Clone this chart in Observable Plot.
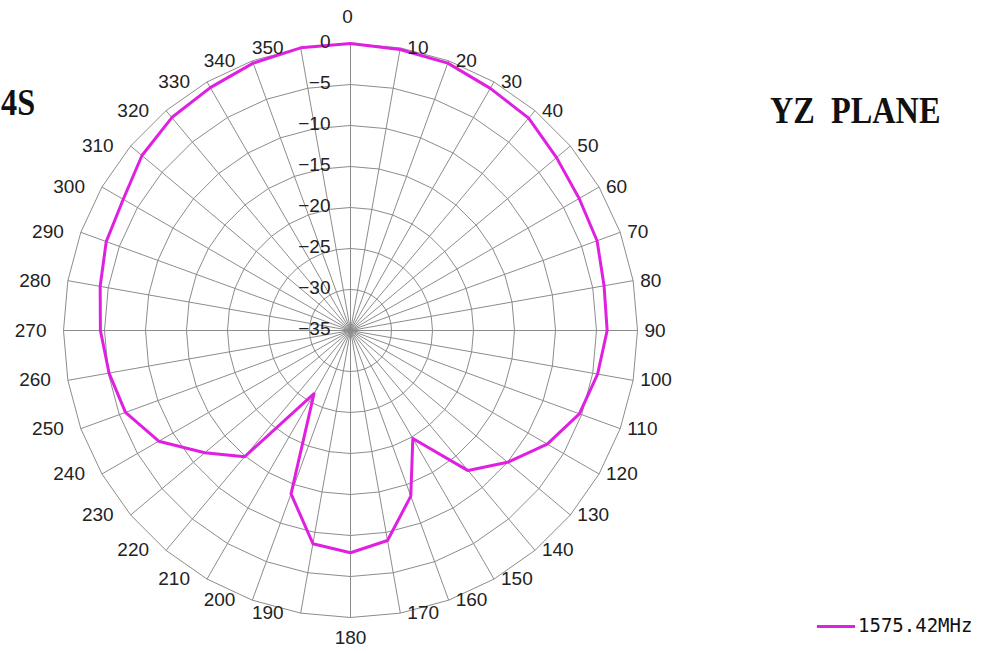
<!DOCTYPE html>
<html>
<head>
<meta charset="utf-8">
<script src="https://cdn.jsdelivr.net/npm/d3@7"></script>
<script src="https://cdn.jsdelivr.net/npm/@observablehq/plot@0.6"></script>
<style>
  html, body { margin: 0; padding: 0; background: #fff; }
  #wrap { position: relative; width: 984px; height: 653px; overflow: hidden; background: #fff; }
  .ttl { position: absolute; font-family: "Liberation Serif", serif; font-weight: bold; font-size: 38px; line-height: 1; color: #111; white-space: pre; }
  #legend { position: absolute; left: 817px; top: 616px; display: flex; align-items: center; font-family: "DejaVu Sans Mono", monospace; font-size: 19px; line-height: 1; color: #111; }
  #legend .sw { width: 38px; height: 3px; background: #e020e0; margin-right: 3px; margin-top: 1px; }
</style>
</head>
<body>
<div id="wrap">
  <div id="chart"></div>
  <div class="ttl" style="left:770px; top:91px; transform: scaleX(0.85); transform-origin: left top;">YZ  PLANE</div>
  <div class="ttl" style="left:1px; top:83px; transform: scaleX(0.85); transform-origin: left top;">4S</div>
  <div id="legend"><div class="sw"></div><span>1575.42MHz</span></div>
</div>
<script>
// Angles (degrees, clockwise from top)
const angles = [0,10,20,30,40,50,60,70,80,90,100,110,120,130,140,150,160,170,180,190,200,210,220,230,240,250,260,270,280,290,300,310,320,330,340,350];
// Gain (dB) at 1575.42MHz
const gain = [0,-0.2,-0.3,-0.9,-1.2,-2.2,-2.8,-3.0,-3.6,-3.7,-4.4,-5.3,-7.3,-10.0,-12.7,-19.8,-13.5,-9.0,-7.9,-8.6,-13.8,-26.1,-14.9,-11.8,-8.0,-5.8,-5.1,-4.5,-4.0,-3.3,-3.0,-1.8,-1.1,-0.8,-0.3,0];
// Radial ring levels (dB)
const ringLevels = [-30,-25,-20,-15,-10,-5,0];
const radialTicks = [0,-5,-10,-15,-20,-25,-30,-35];
const rMin = -35, rMax = 0;

const lon = a => 180 - a;               // angle -> longitude
const lat = db => 90 - (db - rMin);     // dB -> latitude (pole = -35 dB)
const outerLat = lat(rMax);

const series = angles.map((a, i) => ({a, g: gain[i]}));
const closed = [...series, series[0]];
const ringPts = ringLevels.flatMap(level => [...angles, angles[0]].map(a => ({level, a})));

const rightAngles = angles.filter(a => a > 0 && a < 180);
const leftAngles = angles.filter(a => a > 180);

const grid = "#8c8c8c";
const fontSize = 19;

const chart = Plot.plot({
  width: 984,
  height: 653,
  marginLeft: 63,
  marginRight: 347,
  marginTop: 43,
  marginBottom: 36,
  style: {fontFamily: "Liberation Sans, Arial, sans-serif", background: "white", color: "#222"},
  projection: {
    type: "azimuthal-equidistant",
    rotate: [0, -90],
    domain: d3.geoCircle().center([0, 90]).radius(rMax - rMin).precision(1)(),
    inset: 0
  },
  marks: [
    Plot.line(ringPts, {x: d => lon(d.a), y: d => lat(d.level), z: "level", stroke: grid, strokeWidth: 1}),
    Plot.link(angles, {x1: a => lon(a), y1: () => 90, x2: a => lon(a), y2: () => outerLat, stroke: grid, strokeWidth: 1}),
    Plot.line(closed, {x: d => lon(d.a), y: d => lat(d.g), stroke: "#e020e0", strokeWidth: 3}),
    Plot.text(radialTicks, {x: () => 180, y: d => lat(d), text: d => d === 0 ? "0" : "−" + Math.abs(d), textAnchor: "end", dx: -20, dy: -2, fontSize, fill: "#222"}),
    Plot.text(rightAngles, {x: a => lon(a), y: () => outerLat, text: a => String(a), textAnchor: "start", dx: 7, fontSize, fill: "#222"}),
    Plot.text(leftAngles, {x: a => lon(a), y: () => outerLat, text: a => String(a), textAnchor: "end", dx: -17, fontSize, fill: "#222"}),
    Plot.text([0], {x: a => lon(a), y: () => outerLat, text: a => String(a), dx: -3, dy: -27, fontSize, fill: "#222"}),
    Plot.text([180], {x: a => lon(a), y: () => outerLat, text: a => String(a), dy: 20, fontSize, fill: "#222"})
  ]
});
document.getElementById("chart").appendChild(chart);
</script>
</body>
</html>
